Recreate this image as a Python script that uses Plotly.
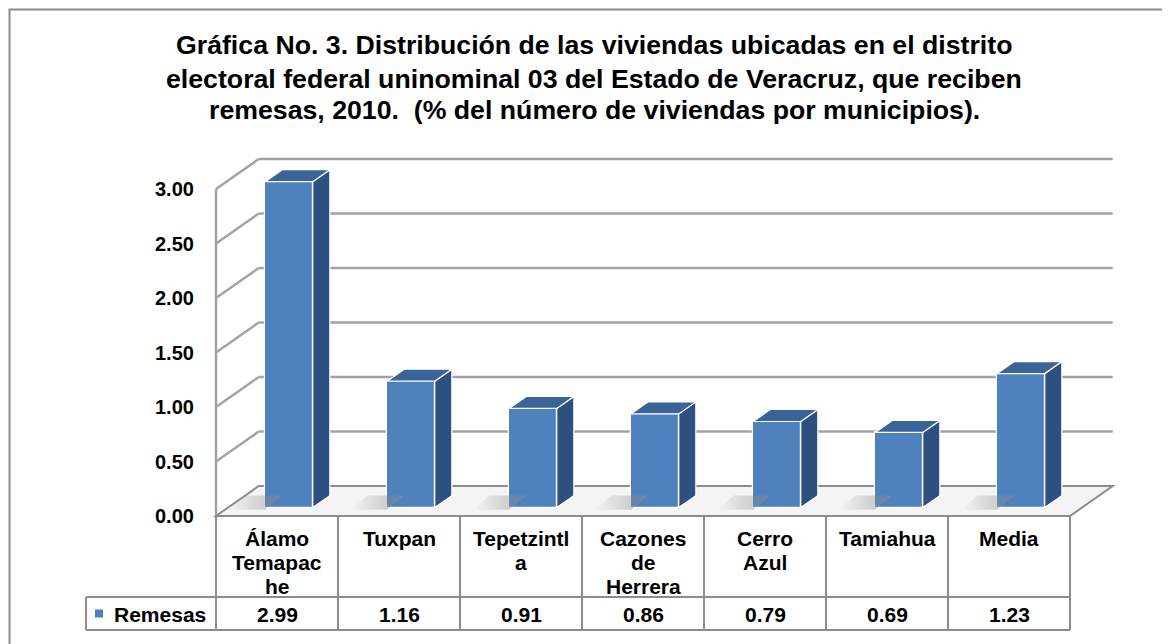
import plotly.graph_objects as go

# ---------------- data ----------------
categories = ["Álamo<br>Temapac<br>he", "Tuxpan", "Tepetzintl<br>a", "Cazones<br>de<br>Herrera",
              "Cerro<br>Azul", "Tamiahua", "Media"]
values = [2.99, 1.16, 0.91, 0.86, 0.79, 0.69, 1.23]
value_labels = ["2.99", "1.16", "0.91", "0.86", "0.79", "0.69", "1.23"]
series_name = "Remesas"
y_ticks = [0.0, 0.5, 1.0, 1.5, 2.0, 2.5, 3.0]
y_tick_labels = ["0.00", "0.50", "1.00", "1.50", "2.00", "2.50", "3.00"]
title_lines = ["Gráfica No. 3. Distribución de las viviendas ubicadas en el distrito",
               "electoral federal uninominal 03 del Estado de Veracruz, que reciben",
               "remesas, 2010.  (% del número de viviendas por municipios)."]

# ---------------- geometry / style ----------------
W, H = 1170, 644
OFF = 8.0               # page offset compensation
COL_PX = 122.0          # pixels per category
LEFT_PX = 216.0 - OFF   # pixel of first column's left edge
ZERO_PX = 516.0 - OFF   # pixel of y=0 on front plane
UNIT_PX = 109.0         # pixels per y unit
x0 = -0.5 - LEFT_PX / COL_PX
x1 = x0 + W / COL_PX
y1 = ZERO_PX / UNIT_PX
y0 = -(H - ZERO_PX) / UNIT_PX

DX, DY = 0.35, 0.275    # 3-D depth offset (data units)
F0, F1 = 0.28, 0.68     # bar depth fractions
BW = 0.39               # bar front width

FRONT = "#4F81BD"
SIDE = "#2D5080"
TOP = "#3A6498"
GRID = "#a3a3a3"
EDGE = "#8c8c8c"
FONT = "Liberation Sans, Arial, sans-serif"

n = len(categories)
xs = list(range(n))
left_edge = -0.5
right_edge = n - 0.5

def py(p):
    return 1 - (p - OFF) / H

def px(p):
    return (p - OFF) / W

fig = go.Figure()

shapes = []
# floor
shapes.append(dict(type="path", xref="x", yref="y", layer="below",
                   path=f"M {left_edge},0 L {right_edge},0 L {right_edge+DX},{DY} L {left_edge+DX},{DY} Z",
                   fillcolor="#f4f4f4", line=dict(color=EDGE, width=2)))
# side-wall diagonals and back-wall gridlines
for v in y_ticks:
    if v > 0:
        shapes.append(dict(type="line", xref="x", yref="y", layer="below",
                           x0=left_edge, y0=v, x1=left_edge + DX, y1=v + DY,
                           line=dict(color=GRID, width=2.5)))
        shapes.append(dict(type="line", xref="x", yref="y", layer="below",
                           x0=left_edge + DX, y0=v + DY, x1=right_edge + DX, y1=v + DY,
                           line=dict(color=GRID, width=2.5)))
# front-left value axis line
shapes.append(dict(type="line", xref="x", yref="y", layer="below",
                   x0=left_edge, y0=0, x1=left_edge, y1=max(y_ticks),
                   line=dict(color=GRID, width=2.5)))

# table lines
t_top, t_mid, t_bot = py(516), py(597), py(630)
leg_left = px(86)
shapes.append(dict(type="line", xref="x", yref="paper", x0=left_edge, x1=right_edge, y0=t_top, y1=t_top,
                   line=dict(color=EDGE, width=2)))
for yy in (t_mid, t_bot):
    shapes.append(dict(type="line", xref="paper", yref="paper", x0=leg_left,
                       x1=px(216 + n * COL_PX), y0=yy, y1=yy, line=dict(color=EDGE, width=2)))
for i in range(n + 1):
    shapes.append(dict(type="line", xref="x", yref="paper", x0=i - 0.5, x1=i - 0.5, y0=t_top, y1=t_bot,
                       line=dict(color=EDGE, width=2)))
shapes.append(dict(type="line", xref="paper", yref="paper", x0=leg_left, x1=leg_left, y0=t_mid, y1=t_bot,
                   line=dict(color=EDGE, width=2)))
# legend key
shapes.append(dict(type="rect", xref="paper", yref="paper",
                   x0=px(95), x1=px(103), y0=py(617.5), y1=py(609.5),
                   fillcolor=FRONT, line=dict(width=0)))
# outer border (as close to the page corner as the figure allows)
shapes.append(dict(type="rect", xref="paper", yref="paper",
                   x0=1.5 / W, x1=1.05, y0=-0.1, y1=1 - 1.5 / H,
                   fillcolor="rgba(0,0,0,0)", line=dict(color=EDGE, width=2)))

bar_x = [i + F0 * DX for i in xs]
dd = F1 - F0
b0 = F0 * DY

# soft floor shadows to the left of each bar
for cx in bar_x:
    xl = cx - BW / 2
    fig.add_trace(go.Scatter(
        x=[xl - 0.3, xl, xl + dd * DX, xl + dd * DX - 0.3, xl - 0.3],
        y=[b0 - 0.02, b0 - 0.02, b0 + dd * DY, b0 + dd * DY, b0 - 0.02],
        fill="toself", mode="lines", line=dict(width=0),
        fillgradient=dict(type="horizontal",
                          colorscale=[[0, "rgba(140,140,140,0)"], [1, "rgba(140,140,140,0.55)"]]),
        showlegend=False, hoverinfo="skip"))

# bars: front faces
fig.add_trace(go.Bar(x=bar_x, y=values, base=[b0] * n, width=BW,
                     marker=dict(color=FRONT, line=dict(color="white", width=1.2)),
                     name=series_name, showlegend=False, hoverinfo="skip"))

sx, sy, tx, ty = [], [], [], []
for cx, v in zip(bar_x, values):
    xl, xr = cx - BW / 2, cx + BW / 2
    top = b0 + v
    sx += [xr, xr + dd * DX, xr + dd * DX, xr, xr, None]
    sy += [b0, b0 + dd * DY, top + dd * DY, top, b0, None]
    tx += [xl, xr, xr + dd * DX, xl + dd * DX, xl, None]
    ty += [top, top, top + dd * DY, top + dd * DY, top, None]
fig.add_trace(go.Scatter(x=sx, y=sy, fill="toself", fillcolor=SIDE, mode="lines",
                         line=dict(color="white", width=1.2), showlegend=False, hoverinfo="skip"))
fig.add_trace(go.Scatter(x=tx, y=ty, fill="toself", fillcolor=TOP, mode="lines",
                         line=dict(color="white", width=1.2), showlegend=False, hoverinfo="skip"))

annotations = []
# title
for txt, cy in zip(title_lines, [45, 79, 110]):
    annotations.append(dict(text=f"<b>{txt}</b>", xref="paper", yref="paper", x=px(594),
                            y=py(cy), xanchor="center", yanchor="middle", showarrow=False,
                            font=dict(family=FONT, size=26.7, color="black")))
# y tick labels
for v, lab in zip(y_ticks, y_tick_labels):
    annotations.append(dict(text=f"<b>{lab}</b>", xref="x", yref="y", x=left_edge, y=v,
                            xanchor="right", yanchor="middle", xshift=-20, showarrow=False,
                            font=dict(family=FONT, size=20, color="black")))
# table header (categories), one annotation per text line
for i, c in zip(xs, categories):
    for k, part in enumerate(c.split("<br>")):
        annotations.append(dict(text=f"<b>{part}</b>", xref="x", yref="paper", x=i, y=py(538 + 24 * k),
                                xanchor="center", yanchor="middle", showarrow=False,
                                font=dict(family=FONT, size=21, color="black")))
# table values
for i, lab in zip(xs, value_labels):
    annotations.append(dict(text=f"<b>{lab}</b>", xref="x", yref="paper", x=i, y=py(614),
                            xanchor="center", yanchor="middle", showarrow=False,
                            font=dict(family=FONT, size=21, color="black")))
# legend text
annotations.append(dict(text=f"<b>{series_name}</b>", xref="paper", yref="paper", x=px(112),
                        y=py(614), xanchor="left", yanchor="middle", showarrow=False,
                        font=dict(family=FONT, size=21, color="black")))

fig.update_layout(
    width=W, height=H, margin=dict(l=0, r=0, t=0, b=0),
    paper_bgcolor="white", plot_bgcolor="rgba(0,0,0,0)",
    xaxis=dict(range=[x0, x1], visible=False, fixedrange=True),
    yaxis=dict(range=[y0, y1], visible=False, fixedrange=True),
    shapes=shapes, annotations=annotations, showlegend=False, bargap=0,
)

fig.write_html("out.html")
